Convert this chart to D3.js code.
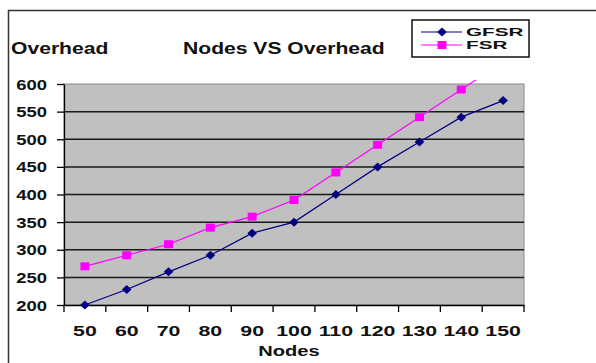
<!DOCTYPE html>
<html>
<head>
<meta charset="utf-8">
<script src="https://cdn.jsdelivr.net/npm/d3@7"></script>
<style>
  body { margin: 0; background: #fff; }
  svg { display: block; font-family: "Liberation Sans", Arial, sans-serif; font-weight: bold; }
</style>
</head>
<body>
<div class="chart"></div>
<script>
// data
const nodes = [50, 60, 70, 80, 90, 100, 110, 120, 130, 140, 150];
const gfsr = [200, 228, 260, 290, 330, 350, 400, 450, 495, 540, 570];
const fsr = [270, 290, 310, 340, 360, 390, 440, 490, 540, 590, 640];
const yTicks = [200, 250, 300, 350, 400, 450, 500, 550, 600];

const series = [
    { name: 'GFSR', color: '#000080', marker: 'diamond', values: gfsr },
    { name: 'FSR', color: '#ff00ff', marker: 'square', values: fsr }
];

// layout
const width = 596;
const height = 363;
const plot = { left: 64, right: 524, top: 84, bottom: 305 };
const stretch = 1.32; // the original picture is a bit wide

const xScale = d3.scaleBand()
    .domain(nodes)
    .range([plot.left, plot.right])
    .padding(0);
const yScale = d3.scaleLinear()
    .domain([200, 600])
    .range([plot.bottom, plot.top]);
const xc = d => xScale(d) + xScale.bandwidth() / 2;

const svg = d3.select('.chart')
    .append('svg')
    .attr('width', width)
    .attr('height', height);

// outer frame
svg.append('rect')
    .attr('x', 8.5).attr('y', 10.5)
    .attr('width', 620).attr('height', 400)
    .style('fill', 'none')
    .style('stroke', '#333')
    .style('stroke-width', 1.5);

// stretched text helper
const addText = (g, x, y, txt, size, anchor, sx) => {
    g.append('g')
        .attr('transform', `translate(${x},${y}) scale(${sx || stretch},1)`)
        .append('text')
        .attr('text-anchor', anchor || 'start')
        .style('font-size', size + 'px')
        .style('fill', '#111')
        .text(txt);
};

// titles
addText(svg, 11, 54, 'Overhead', 16);
addText(svg, 183, 54, 'Nodes VS Overhead', 16);
addText(svg, 289, 356, 'Nodes', 15, 'middle', 1.34);

// plot background
svg.append('rect')
    .attr('x', plot.left).attr('y', plot.top)
    .attr('width', plot.right - plot.left)
    .attr('height', plot.bottom - plot.top)
    .style('fill', '#c0c0c0')
    .style('stroke', '#8a8a8a')
    .style('stroke-width', 1);

// gridlines
svg.append('g')
    .attr('class', 'grid')
    .selectAll('line')
    .data(yTicks.filter(d => d > 200 && d < 600))
    .enter()
    .append('line')
    .attr('x1', plot.left).attr('x2', plot.right)
    .attr('y1', d => yScale(d)).attr('y2', d => yScale(d))
    .style('stroke', '#1a1a1a')
    .style('stroke-width', 1.5);

// y axis
const yAxis = d3.axisLeft(yScale)
    .tickValues(yTicks)
    .tickSize(7)
    .tickSizeOuter(0)
    .tickPadding(0);
const yAxisDraw = svg.append('g')
    .attr('class', 'y-axis')
    .attr('transform', `translate(${plot.left},0)`)
    .call(yAxis);
yAxisDraw.select('.domain').style('stroke', '#000').style('stroke-width', 1.3);
yAxisDraw.selectAll('.tick line').style('stroke', '#000').style('stroke-width', 1.3);
yAxisDraw.selectAll('text')
    .attr('x', -17 / stretch)
    .attr('dy', '0.36em')
    .attr('transform', `scale(${stretch},1)`)
    .style('font-size', '14px')
    .style('font-family', '"Liberation Sans", Arial, sans-serif')
    .style('font-weight', 'bold')
    .style('fill', '#111');

// x axis, labels at category centres
const xAxis = d3.axisBottom(xScale)
    .tickSize(0)
    .tickSizeOuter(0)
    .tickPadding(0);
const xAxisDraw = svg.append('g')
    .attr('class', 'x-axis')
    .attr('transform', `translate(0,${plot.bottom})`)
    .call(xAxis);
xAxisDraw.select('.domain').style('stroke', '#000').style('stroke-width', 1.3);
xAxisDraw.selectAll('text')
    .attr('y', 31)
    .attr('dy', 0)
    .attr('transform', 'scale(1.42,1)')
    .style('font-size', '15px')
    .style('font-family', '"Liberation Sans", Arial, sans-serif')
    .style('font-weight', 'bold')
    .style('fill', '#111');

// tick marks between categories
const bounds = nodes.map(d => xScale(d)).concat([xScale.range()[1]]);
xAxisDraw.append('g')
    .selectAll('line')
    .data(bounds)
    .enter()
    .append('line')
    .attr('x1', d => d).attr('x2', d => d)
    .attr('y1', 0).attr('y2', 7)
    .style('stroke', '#000')
    .style('stroke-width', 1.3);

// series
svg.append('clipPath')
    .attr('id', 'clip')
    .append('rect')
    .attr('x', plot.left - 10).attr('y', plot.top - 4)
    .attr('width', plot.right - plot.left + 20)
    .attr('height', plot.bottom - plot.top + 20);

const lineGenerator = d3.line()
    .x((d, i) => xc(nodes[i]))
    .y(d => yScale(d));

const markerPath = (type, x, y) => {
    if (type === 'diamond') {
        return `M${x},${y - 4.5}L${x + 4.8},${y}L${x},${y + 4.5}L${x - 4.8},${y}Z`;
    }
    return `M${x - 4.5},${y - 4}h9v8h-9Z`;
};

const chartGroup = svg.append('g')
    .attr('class', 'line-chart')
    .attr('clip-path', 'url(#clip)');

// draw FSR first so GFSR sits on top where they meet
series.slice().reverse().forEach(s => {
    chartGroup.append('path')
        .attr('d', lineGenerator(s.values))
        .style('fill', 'none')
        .style('stroke', s.color)
        .style('stroke-width', 1.2);
    chartGroup.append('g')
        .selectAll('path')
        .data(s.values)
        .enter()
        .append('path')
        .attr('d', (d, i) => markerPath(s.marker, xc(nodes[i]), yScale(d)))
        .style('fill', s.color);
});

// legend
const legend = svg.append('g').attr('class', 'legend');
legend.append('rect')
    .attr('x', 412).attr('y', 20)
    .attr('width', 117).attr('height', 37)
    .style('fill', '#fff')
    .style('stroke', '#111')
    .style('stroke-width', 1.5);
series.forEach((s, i) => {
    const y = 32 + i * 13;
    legend.append('line')
        .attr('x1', 421).attr('x2', 462)
        .attr('y1', y).attr('y2', y)
        .style('stroke', s.color)
        .style('stroke-width', 1.2);
    legend.append('path')
        .attr('d', markerPath(s.marker, 442, y))
        .style('fill', s.color);
    addText(legend, 466, y + 4.3, s.name, 11.5, 'start', 1.8);
});
</script>
</body>
</html>
